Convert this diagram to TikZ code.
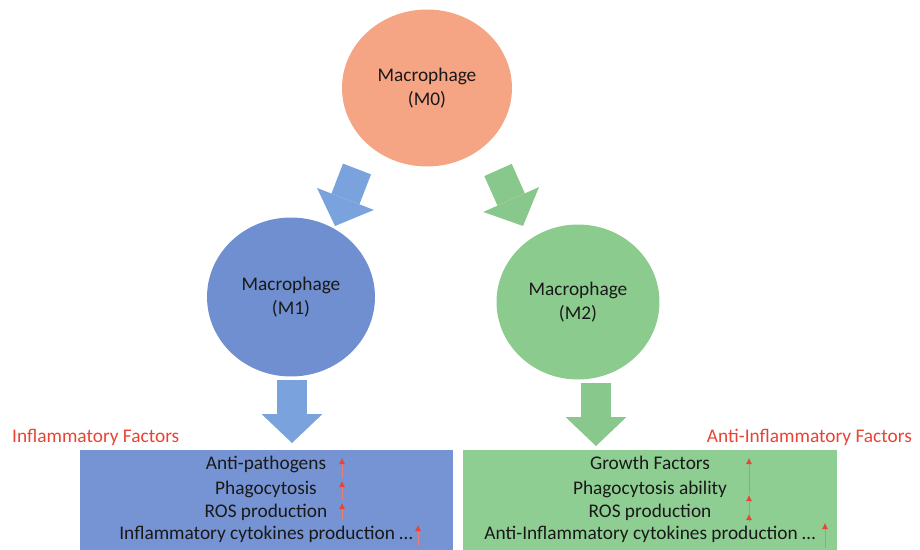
\documentclass[tikz,border=0pt]{standalone}
\usepackage{fontspec}
\setmainfont{Carlito}
\usetikzlibrary{arrows.meta,shapes.geometric}
\definecolor{mphorange}{RGB}{245,164,132}
\definecolor{mphblue}{RGB}{112,143,208}
\definecolor{mphgreen}{RGB}{140,203,142}
\definecolor{arrblue}{RGB}{122,163,222}
\definecolor{arrgreen}{RGB}{136,200,140}
\definecolor{boxblue}{RGB}{118,148,211}
\definecolor{boxgreen}{RGB}{143,206,146}
\definecolor{factred}{RGB}{232,68,52}
\definecolor{textdark}{RGB}{25,25,25}

\begin{document}
\begin{tikzpicture}[x=0.02cm, y=-0.02cm,
    cell/.style={ellipse, inner sep=0pt, align=center, font=\fontsize{11}{13.5}\selectfont, text=textdark},
    bigarrow/.style={line width=0.6cm, -{Triangle[width=1.22cm,length=0.58cm,line width=0pt]}},
    factbox/.style={inner sep=0pt, minimum height=2cm},
    factline/.style={anchor=base, font=\fontsize{11}{13}\selectfont, text=textdark},
    facttitle/.style={font=\fontsize{11}{13}\selectfont, text=factred},
    upmark/.style={draw=factred!70, line width=0.4pt, -{Latex[length=3.5pt,width=3.5pt,color=factred]}}
  ]
  \useasboundingbox (0,0) rectangle (920,550);

  % Macrophages
  \node[cell, fill=mphorange, minimum width=3.4cm, minimum height=3.14cm] (m0) at (427,88) {Macrophage\\(M0)};
  \node[cell, fill=mphblue, minimum width=3.36cm, minimum height=3.18cm] (m1) at (291,297) {Macrophage\\(M1)};
  \node[cell, fill=mphgreen, minimum width=3.26cm, minimum height=3.1cm] (m2) at (578,302) {Macrophage\\(M2)};

  % Factor boxes
  \node[factbox, fill=boxblue, minimum width=7.46cm] (bbox) at (266.5,500) {};
  \node[factbox, fill=boxgreen, minimum width=7.48cm] (gbox) at (650,500) {};

  \node[facttitle, anchor=west] (btitle) at (6,437) {Inflammatory Factors};
  \node[facttitle, anchor=east] (gtitle) at (918,437) {Anti-Inflammatory Factors};

  \node[factline] (b1) at (266,470) {Anti-pathogens};
  \node[factline] (b2) at (266,495) {Phagocytosis};
  \node[factline] (b3) at (266,518) {ROS production};
  \node[factline] (b4) at (266,540) {Inflammatory cytokines production \dots};

  \node[factline] (g1) at (650,470) {Growth Factors};
  \node[factline] (g2) at (650,495) {Phagocytosis ability};
  \node[factline] (g3) at (650,518) {ROS production};
  \node[factline] (g4) at (650,540) {Anti-Inflammatory cytokines production \dots};

  % Block arrows
  \coordinate (a1s) at (357,169);
  \coordinate (a1e) at (335,226);
  \coordinate (a2s) at (498,170);
  \coordinate (a2e) at (523,226);
  \coordinate (a3s) at (292,380);
  \coordinate (a3e) at (292,443);
  \coordinate (a4s) at (596,383);
  \coordinate (a4e) at (596,446);
  \draw[bigarrow, draw=arrblue] (a1s) -- (a1e);
  \draw[bigarrow, draw=arrgreen] (a2s) -- (a2e);
  \draw[bigarrow, draw=arrblue] (a3s) -- (a3e);
  \draw[bigarrow, draw=arrgreen] (a4s) -- (a4e);

  % Up marks
  \draw[upmark] (342,478) -- (342,458);
  \draw[upmark] (342,500) -- (342,481);
  \draw[upmark] (342,520) -- (342,503);
  \draw[upmark] (418,546) -- (418,525);
  \draw[upmark] (749,494) -- (749,458);
  \draw[upmark] (749,514) -- (749,495);
  \draw[upmark] (749,522) -- (749,514);
  \draw[upmark] (825,548) -- (825,523);
\end{tikzpicture}
\end{document}
